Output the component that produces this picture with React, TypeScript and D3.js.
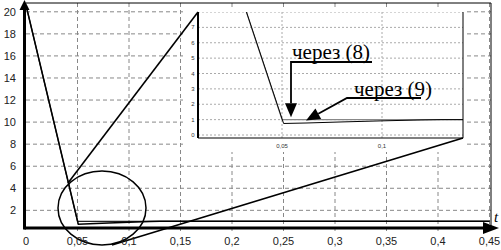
import React from 'react'
import * as d3 from 'd3'

// main chart ticks
const xTicks = [0, 0.05, 0.1, 0.15, 0.2, 0.25, 0.3, 0.35, 0.4, 0.45]
const yTicks = [2, 4, 6, 8, 10, 12, 14, 16, 18, 20]

// series: [t, value]
const series8: [number, number][] = [[0, 20.6], [0.05, 1.0], [0.45, 1.0]]
const series9: [number, number][] = [
  [0, 20.6], [0.0508, 0.75], [0.062, 0.78], [0.08, 0.85], [0.1, 0.92], [0.12, 0.98], [0.13, 1.0], [0.45, 1.0],
]

// inset ticks
const insetYTicks = [0, 1, 2, 3, 4, 5, 6, 7, 8]
const insetXTicks = [0.05, 0.1]

const fmt = (v: number) => String(v).replace('.', ',')

function App() {
  const W = 501, H = 250
  const x = d3.scaleLinear().domain([0, 0.45]).range([26, 489.5])
  const y = d3.scaleLinear().domain([0, 20]).range([232.4, 11.8])
  const axisY = 228
  const frameR = 491, frameT = 3

  const xi = d3.scaleLinear().domain([0.05, 0.1]).range([282, 382])
  const yi = d3.scaleLinear().domain([0, 8]).range([135, 12])
  const iL = 198, iR = 463, iT = 12, iB = 138

  const line = d3.line<[number, number]>().x(d => x(d[0])).y(d => y(d[1]))
  const lineI = d3.line<[number, number]>().x(d => xi(d[0])).y(d => yi(d[1]))

  const sans = 'Liberation Sans, Arial, sans-serif'
  const serifStyle = { fontFamily: '"Liberation Serif", "DejaVu Serif", serif' }

  // annotation arrow (9)
  const a9start: [number, number] = [347, 98]
  const a9tip: [number, number] = [xi(0.062), yi(0.95)]
  const dx = a9tip[0] - a9start[0], dy = a9tip[1] - a9start[1]
  const len = Math.hypot(dx, dy)
  const ux = dx / len, uy = dy / len
  const hl = 14, hw = 6
  const bx = a9tip[0] - ux * hl, by = a9tip[1] - uy * hl
  const head9 = `M${a9tip[0]},${a9tip[1]}L${bx - uy * hw},${by + ux * hw}L${bx + uy * hw},${by - ux * hw}Z`

  const tip8: [number, number] = [xi(0.0545), yi(1.15)]

  return (
    <svg width={W} height={H} style={{ position: 'absolute', left: 0, top: 0, background: '#fff' }}>
      <defs>
        <clipPath id="mainClip">
          <rect x={x(0)} y={frameT} width={frameR - x(0)} height={axisY - frameT} />
        </clipPath>
        <clipPath id="insetClip">
          <rect x={iL} y={iT} width={iR - iL} height={iB - iT} />
        </clipPath>
      </defs>
      <rect width={W} height={H} fill="#fff" />

      {/* main grid */}
      <g stroke="#888" strokeWidth={1} strokeDasharray="4,3">
        {xTicks.slice(1).map(t => (
          <line key={'gx' + t} x1={x(t)} x2={x(t)} y1={frameT} y2={axisY + 4} />
        ))}
        {yTicks.map(t => (
          <line key={'gy' + t} x1={x(0)} x2={frameR} y1={y(t)} y2={y(t)} />
        ))}
      </g>

      {/* frame */}
      <path d={`M${x(0)},${frameT}H${frameR}V${axisY}`} fill="none" stroke="#000" strokeWidth={1} />

      {/* main lines */}
      <g clipPath="url(#mainClip)" fill="none">
        <path d={line(series8) || ''} stroke="#222" strokeWidth={1.2} />
        <path d={line(series9) || ''} stroke="#000" strokeWidth={1.5} />
      </g>

      {/* inset */}
      <rect x={183} y={8} width={284} height={144} fill="#fff" />
      <g clipPath="url(#insetClip)">
        <g stroke="#aaa" strokeWidth={1} strokeDasharray="2,2">
          {insetYTicks.map(t => (
            <line key={'iy' + t} x1={iL} x2={iR} y1={yi(t)} y2={yi(t)} />
          ))}
          {insetXTicks.map(t => (
            <line key={'ix' + t} x1={xi(t)} x2={xi(t)} y1={iT} y2={iB} />
          ))}
        </g>
        <path d={lineI(series8) || ''} fill="none" stroke="#888" strokeWidth={1.1} />
        <path d={lineI(series9) || ''} fill="none" stroke="#000" strokeWidth={1} />
      </g>
      <path d={`M${iL},${iB}H${iR}V${iT}`} fill="none" stroke="#000" strokeWidth={1} />
      <line x1={iL} x2={iL} y1={iT} y2={iB} stroke="#000" strokeWidth={2} />
      <g fontFamily={sans} fontSize={6} fill="#333">
        {insetYTicks.slice(0, 8).map(t => (
          <text key={'iyl' + t} x={193} y={yi(t) + 2} textAnchor="middle">{t}</text>
        ))}
        {insetXTicks.map(t => (
          <text key={'ixl' + t} x={xi(t)} y={148} textAnchor="middle">{fmt(t)}</text>
        ))}
      </g>

      {/* zoom lines and ellipse */}
      <ellipse cx={102} cy={208} rx={44} ry={37} fill="none" stroke="#000" strokeWidth={1.5} />
      <line x1={68} y1={183} x2={iL} y2={iT} stroke="#000" strokeWidth={1.6} />
      <line x1={112} y1={245} x2={iR} y2={iB} stroke="#000" strokeWidth={1.8} />

      {/* annotations */}
      <text x={292} y={59} fontSize={21} fill="#000" style={serifStyle}>через (8)</text>
      <text x={354} y={96} fontSize={21} fill="#000" style={serifStyle}>через (9)</text>
      <path d={`M372,62H${tip8[0]}V${tip8[1] - 14}`} fill="none" stroke="#000" strokeWidth={1.8} />
      <path d={`M${tip8[0]},${tip8[1]}L${tip8[0] - 6},${tip8[1] - 14}L${tip8[0] + 6},${tip8[1] - 14}Z`} fill="#000" />
      <path d={`M421,${a9start[1]}H${a9start[0]}L${bx},${by}`} fill="none" stroke="#000" strokeWidth={1.8} />
      <path d={head9} fill="#000" />

      {/* axes */}
      <line x1={x(0) - 1.5} x2={490} y1={axisY} y2={axisY} stroke="#000" strokeWidth={3} />
      <path d={`M499,${axisY}L483,${axisY - 6}L483,${axisY + 6}Z`} fill="#000" />
      <line x1={x(0) - 1.5} x2={x(0) - 1.5} y1={axisY + 1.5} y2={8} stroke="#000" strokeWidth={3} />
      <path d={`M${x(0) - 1.5},0L${x(0) - 6.5},10L${x(0) + 3.5},10Z`} fill="#000" />
      <text x={494} y={222} fontStyle="italic" fontSize={15} style={serifStyle}>t</text>

      {/* tick labels */}
      <g fontFamily={sans} fontSize={11} fill="#222">
        {xTicks.map(t => (
          <text key={'xl' + t} x={x(t)} y={245} textAnchor="middle">{fmt(t)}</text>
        ))}
        {yTicks.map(t => (
          <text key={'yl' + t} x={16} y={y(t) + 4} textAnchor="end">{t}</text>
        ))}
      </g>
    </svg>
  )
}

export default App
